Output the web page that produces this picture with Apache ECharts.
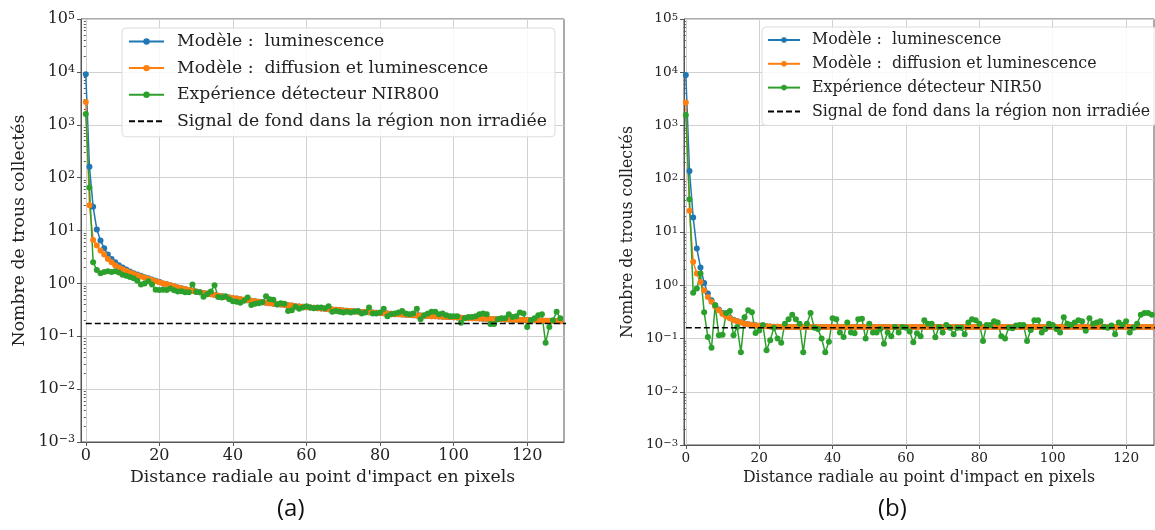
<!DOCTYPE html>
<html>
<head>
<meta charset="utf-8">
<script src="https://cdn.jsdelivr.net/npm/echarts@6/dist/echarts.min.js"></script>
<style>
html, body { margin: 0; padding: 0; background: #fff; }
#chart { width: 1155px; height: 530px; }
</style>
</head>
<body>
<div id="chart"></div>
<script>
// ---- data (x = distance in pixels = index in array) ----
var lumA = [9000, 160, 28, 10.5, 6.5, 4.6, 3.5, 2.9, 2.5, 2.2,
  2.0, 1.82, 1.68, 1.56, 1.47, 1.39, 1.31, 1.25, 1.18, 1.12,
  1.07, 1.0, 0.96, 0.92, 0.88, 0.84, 0.81, 0.78, 0.75, 0.72,
  0.7, 0.68, 0.66, 0.64, 0.62, 0.6, 0.585, 0.57, 0.555, 0.54,
  0.525, 0.515, 0.5, 0.49, 0.48, 0.47, 0.46, 0.45, 0.44, 0.43,
  0.42, 0.41, 0.405, 0.4, 0.39, 0.385, 0.38, 0.37, 0.365, 0.36,
  0.355, 0.35, 0.345, 0.34, 0.335, 0.33, 0.325, 0.32, 0.316, 0.312,
  0.308, 0.304, 0.3, 0.296, 0.292, 0.289, 0.286, 0.283, 0.28, 0.277,
  0.274, 0.271, 0.268, 0.265, 0.262, 0.26, 0.258, 0.255, 0.252, 0.25,
  0.248, 0.246, 0.244, 0.242, 0.24, 0.238, 0.236, 0.234, 0.232, 0.23,
  0.228, 0.226, 0.224, 0.222, 0.22, 0.219, 0.218, 0.216, 0.215, 0.214,
  0.212, 0.211, 0.21, 0.209, 0.208, 0.207, 0.206, 0.205, 0.204, 0.203,
  0.202, 0.201, 0.2, 0.199, 0.198, 0.197, 0.196, 0.195, 0.194, 0.193];
var diffLumA = [2700, 30, 6.6, 5.2, 4.2, 3.5, 2.9, 2.5, 2.2, 2.0,
  1.85, 1.72, 1.6, 1.5, 1.42, 1.35, 1.28, 1.22, 1.16, 1.1,
  1.05, 1.0, 0.96, 0.92, 0.88, 0.84, 0.81, 0.78, 0.75, 0.72,
  0.7, 0.68, 0.66, 0.64, 0.62, 0.6, 0.585, 0.57, 0.555, 0.54,
  0.525, 0.515, 0.5, 0.49, 0.48, 0.47, 0.46, 0.45, 0.44, 0.43,
  0.42, 0.41, 0.405, 0.4, 0.39, 0.385, 0.38, 0.37, 0.365, 0.36,
  0.355, 0.35, 0.345, 0.34, 0.335, 0.33, 0.325, 0.32, 0.316, 0.312,
  0.308, 0.304, 0.3, 0.296, 0.292, 0.289, 0.286, 0.283, 0.28, 0.277,
  0.274, 0.271, 0.268, 0.265, 0.262, 0.26, 0.258, 0.255, 0.252, 0.25,
  0.248, 0.246, 0.244, 0.242, 0.24, 0.238, 0.236, 0.234, 0.232, 0.23,
  0.228, 0.226, 0.224, 0.222, 0.22, 0.219, 0.218, 0.216, 0.215, 0.214,
  0.212, 0.211, 0.21, 0.209, 0.208, 0.207, 0.206, 0.205, 0.204, 0.203,
  0.202, 0.201, 0.2, 0.199, 0.198, 0.197, 0.196, 0.195, 0.194, 0.193];
var nir800 = [1600, 65, 2.5, 1.8, 1.55, 1.65, 1.7, 1.65, 1.7, 1.6,
  1.45, 1.4, 1.32, 1.25, 1.12, 0.95, 1.0, 1.1, 0.95, 0.76,
  0.75, 0.76, 0.75, 0.8, 0.74, 0.7, 0.71, 0.68, 0.68, 0.95,
  0.69, 0.68, 0.56, 0.62, 0.7, 0.92, 0.55, 0.54, 0.57, 0.5,
  0.46, 0.45, 0.43, 0.47, 0.54, 0.39, 0.41, 0.42, 0.44, 0.57,
  0.5, 0.49, 0.4, 0.42, 0.41, 0.3, 0.31, 0.36, 0.33, 0.35,
  0.37, 0.35, 0.34, 0.35, 0.35, 0.34, 0.37, 0.29, 0.3, 0.29,
  0.28, 0.29, 0.28, 0.29, 0.3, 0.27, 0.28, 0.35, 0.27, 0.27,
  0.28, 0.33, 0.24, 0.26, 0.27, 0.28, 0.3, 0.27, 0.26, 0.27,
  0.33, 0.21, 0.25, 0.27, 0.29, 0.29, 0.26, 0.27, 0.25, 0.24,
  0.24, 0.24, 0.18, 0.22, 0.23, 0.23, 0.24, 0.26, 0.27, 0.26,
  0.17, 0.17, 0.21, 0.22, 0.22, 0.26, 0.23, 0.24, 0.28, 0.27,
  0.15, 0.2, 0.22, 0.25, 0.26, 0.075, 0.15, 0.2, 0.29, 0.22];

var lumB = [8900, 140, 18.8, 4.9, 2.15, 1.1, 0.7, 0.52, 0.42, 0.35,
  0.3, 0.265, 0.245, 0.225, 0.212, 0.202, 0.192, 0.186, 0.181, 0.177,
  0.174, 0.171, 0.169, 0.168, 0.167, 0.166, 0.165, 0.165, 0.165, 0.165,
  0.165, 0.165, 0.165, 0.165, 0.165, 0.165, 0.165, 0.165, 0.165, 0.165,
  0.165, 0.165, 0.165, 0.165, 0.165, 0.165, 0.165, 0.165, 0.165, 0.165,
  0.165, 0.165, 0.165, 0.165, 0.165, 0.165, 0.165, 0.165, 0.165, 0.165,
  0.164, 0.164, 0.164, 0.164, 0.164, 0.164, 0.164, 0.164, 0.164, 0.164,
  0.164, 0.164, 0.164, 0.164, 0.164, 0.164, 0.164, 0.164, 0.164, 0.164,
  0.164, 0.164, 0.164, 0.164, 0.164, 0.164, 0.164, 0.164, 0.164, 0.164,
  0.164, 0.164, 0.164, 0.164, 0.164, 0.164, 0.164, 0.164, 0.164, 0.164,
  0.164, 0.164, 0.164, 0.164, 0.164, 0.164, 0.164, 0.164, 0.164, 0.164,
  0.164, 0.164, 0.164, 0.164, 0.164, 0.164, 0.164, 0.164, 0.164, 0.164,
  0.164, 0.164, 0.164, 0.164, 0.164, 0.164, 0.164, 0.164];
var diffLumB = [2700, 25, 2.75, 1.66, 1.15, 0.8, 0.6, 0.49, 0.4, 0.34,
  0.29, 0.26, 0.24, 0.22, 0.21, 0.2, 0.19, 0.185, 0.18, 0.176,
  0.173, 0.171, 0.169, 0.168, 0.167, 0.166, 0.165, 0.165, 0.165, 0.165,
  0.165, 0.165, 0.165, 0.165, 0.165, 0.165, 0.165, 0.165, 0.165, 0.165,
  0.165, 0.165, 0.165, 0.165, 0.165, 0.165, 0.165, 0.165, 0.165, 0.165,
  0.165, 0.165, 0.165, 0.165, 0.165, 0.165, 0.165, 0.165, 0.165, 0.165,
  0.164, 0.164, 0.164, 0.164, 0.164, 0.164, 0.164, 0.164, 0.164, 0.164,
  0.164, 0.164, 0.164, 0.164, 0.164, 0.164, 0.164, 0.164, 0.164, 0.164,
  0.164, 0.164, 0.164, 0.164, 0.164, 0.164, 0.164, 0.164, 0.164, 0.164,
  0.164, 0.164, 0.164, 0.164, 0.164, 0.164, 0.164, 0.164, 0.164, 0.164,
  0.164, 0.164, 0.164, 0.164, 0.164, 0.164, 0.164, 0.164, 0.164, 0.164,
  0.164, 0.164, 0.164, 0.164, 0.164, 0.164, 0.164, 0.164, 0.164, 0.164,
  0.164, 0.164, 0.164, 0.164, 0.164, 0.164, 0.164, 0.164];
var nir50 = [1580, 41, 0.72, 0.87, 1.66, 0.31, 0.107, 0.067, 0.42, 0.115,
  0.117, 0.3, 0.33, 0.115, 0.165, 0.055, 0.25, 0.34, 0.31, 0.127,
  0.142, 0.18, 0.06, 0.093, 0.16, 0.1, 0.083, 0.19, 0.23, 0.28,
  0.23, 0.19, 0.055, 0.19, 0.3, 0.16, 0.15, 0.1, 0.055, 0.087,
  0.24, 0.23, 0.13, 0.107, 0.2, 0.13, 0.125, 0.23, 0.235, 0.1,
  0.19, 0.13, 0.13, 0.15, 0.08, 0.13, 0.11, 0.165, 0.13, 0.165,
  0.16, 0.135, 0.085, 0.125, 0.11, 0.22, 0.19, 0.19, 0.105, 0.165,
  0.13, 0.18, 0.16, 0.12, 0.16, 0.16, 0.12, 0.2, 0.23, 0.22,
  0.19, 0.09, 0.18, 0.18, 0.21, 0.2, 0.11, 0.1, 0.16, 0.155,
  0.175, 0.18, 0.18, 0.09, 0.145, 0.22, 0.22, 0.13, 0.15, 0.19,
  0.18, 0.15, 0.13, 0.25, 0.19, 0.18, 0.2, 0.22, 0.21, 0.14,
  0.24, 0.19, 0.2, 0.21, 0.165, 0.16, 0.175, 0.12, 0.2, 0.18,
  0.21, 0.13, 0.16, 0.19, 0.28, 0.3, 0.3, 0.28];

var bgLevelA = 0.175;
var bgLevelB = 0.16;
var bgSpan = [0, 131];

var xTicks = [0, 20, 40, 60, 80, 100, 120];
var yTicks = [0.001, 0.01, 0.1, 1, 10, 100, 1000, 10000, 100000];
var names = ['Modèle :  luminescence', 'Modèle :  diffusion et luminescence',
  'Expérience détecteur NIR800', 'Expérience détecteur NIR50',
  'Signal de fond dans la région non irradiée'];

// minor ticks 2..9 x 10^n for the log axes
var yMinor = [];
for (var e = -3; e < 5; e++) {
  for (var m = 2; m <= 9; m++) yMinor.push(m * Math.pow(10, e));
}

function pairs(arr) {
  return arr.map(function (v, i) { return [i, v]; });
}
function supLabel(v) {
  var e = Math.round(Math.log(v) / Math.LN10);
  return '{b|10}{s|' + (e < 0 ? '\u2212' + (-e) : e) + '}';
}

var serif = 'DejaVu Serif';
var spine = '#555';
var gridCol = '#d0d0d0';

// panel settings: tick font, axis-name font
var panel = [
  { tick: 16, label: 17.3, min: -1.3, max: 130, yGap: 53 },
  { tick: 13.6, label: 15.8, min: -0.5, max: 127.6, yGap: 48 }
];

function xAxisOf(idx) {
  var p = panel[idx];
  return {
    type: 'value', gridIndex: idx, min: p.min, max: p.max,
    axisLine: { show: true, onZero: false, lineStyle: { color: spine, width: 1 } },
    axisTick: { show: true, customValues: xTicks, length: 4, lineStyle: { color: spine } },
    axisLabel: { customValues: xTicks, fontFamily: serif, fontSize: p.tick, color: '#222', margin: 6 },
    splitLine: { show: true, lineStyle: { color: gridCol, width: 1 } },
    name: 'Distance radiale au point d\'impact en pixels',
    nameLocation: 'middle', nameGap: idx === 0 ? 26 : 23,
    nameTextStyle: { fontFamily: serif, fontSize: p.label, color: '#222' }
  };
}
function yAxisOf(idx) {
  var p = panel[idx];
  var fs = p.tick;
  return {
    type: 'log', logBase: 10, gridIndex: idx, min: 0.001, max: 100000,
    axisLine: { show: true, onZero: false, lineStyle: { color: spine, width: 1 } },
    axisTick: { show: true, customValues: yTicks, length: 4, lineStyle: { color: spine } },
    axisLabel: {
      customValues: yTicks, formatter: supLabel, margin: 6,
      rich: {
        b: { fontFamily: serif, fontSize: fs, color: '#222', lineHeight: fs, verticalAlign: 'bottom' },
        s: { fontFamily: serif, fontSize: Math.round(fs * 0.7), color: '#222', lineHeight: fs, verticalAlign: 'top', padding: [0, 0, 4, 0] }
      }
    },
    splitLine: { show: true, lineStyle: { color: gridCol, width: 1 } },
    name: 'Nombre de trous collectés',
    nameLocation: 'middle', nameGap: p.yGap,
    nameTextStyle: { fontFamily: serif, fontSize: p.label, color: '#222' }
  };
}
function minorAxisOf(idx) {
  return {
    type: 'log', logBase: 10, gridIndex: idx, min: 0.001, max: 100000, position: 'left',
    axisLine: { show: false },
    axisTick: { show: true, customValues: yMinor, length: 2, lineStyle: { color: spine } },
    axisLabel: { show: false },
    splitLine: { show: false }
  };
}
function lineSeries(name, data, color, xi) {
  return {
    name: name, type: 'line', xAxisIndex: xi, yAxisIndex: xi * 2,
    data: pairs(data), symbol: 'circle', symbolSize: 6, showSymbol: true,
    color: color, lineStyle: { width: 1.5, color: color }, itemStyle: { color: color }
  };
}
function bgSeries(level, xi) {
  return {
    name: names[4], type: 'line', xAxisIndex: xi, yAxisIndex: xi * 2, z: 5,
    data: [[bgSpan[0], level], [bgSpan[1], level]], symbol: 'none', showSymbol: false,
    color: '#000', lineStyle: { width: 1.5, color: '#000', type: [6, 3] }
  };
}
function legendData(greenName) {
  return [
    { name: names[0] }, { name: names[1] }, { name: greenName },
    { name: names[4], itemStyle: { opacity: 0 } }
  ];
}

var myChart = echarts.init(document.getElementById('chart'));
var option = {
  animation: false,
  backgroundColor: '#fff',
  grid: [
    { left: 81, top: 19, width: 483, height: 423, show: true, borderColor: spine, borderWidth: 1 },
    { left: 684, top: 19, width: 470, height: 426, show: true, borderColor: spine, borderWidth: 1 }
  ],
  xAxis: [xAxisOf(0), xAxisOf(1)],
  yAxis: [yAxisOf(0), minorAxisOf(0), yAxisOf(1), minorAxisOf(1)],
  legend: [
    {
      orient: 'vertical', left: 122, top: 28, itemWidth: 35, itemHeight: 8, itemGap: 9.6,
      padding: [5, 8, 7, 6],
      backgroundColor: 'rgba(255,255,255,0.85)', borderColor: '#dcdcdc', borderWidth: 1, borderRadius: 4,
      textStyle: { fontFamily: serif, fontSize: 17.3, lineHeight: 17, color: '#222', padding: [0, 0, 0, 8] },
      data: legendData(names[2])
    },
    {
      orient: 'vertical', left: 762, top: 27, itemWidth: 32, itemHeight: 7, itemGap: 7.8,
      padding: [5, 6, 6, 5],
      backgroundColor: 'rgba(255,255,255,0.85)', borderColor: '#dcdcdc', borderWidth: 1, borderRadius: 4,
      textStyle: { fontFamily: serif, fontSize: 15.8, lineHeight: 15.5, color: '#222', padding: [0, 0, 0, 7] },
      data: legendData(names[3])
    }
  ],
  graphic: [
    { type: 'text', left: 277, top: 497, style: { text: '(a)', font: '24px "Open Sans"', fill: '#111' } },
    { type: 'text', left: 878, top: 497, style: { text: '(b)', font: '24px "Open Sans"', fill: '#111' } }
  ],
  series: [
    lineSeries(names[0], lumA, '#1f77b4', 0),
    lineSeries(names[1], diffLumA, '#ff7f0e', 0),
    lineSeries(names[2], nir800, '#2ca02c', 0),
    bgSeries(bgLevelA, 0),
    lineSeries(names[0], lumB, '#1f77b4', 1),
    lineSeries(names[1], diffLumB, '#ff7f0e', 1),
    lineSeries(names[3], nir50, '#2ca02c', 1),
    bgSeries(bgLevelB, 1)
  ]
};
myChart.setOption(option, true);
</script>
</body>
</html>
